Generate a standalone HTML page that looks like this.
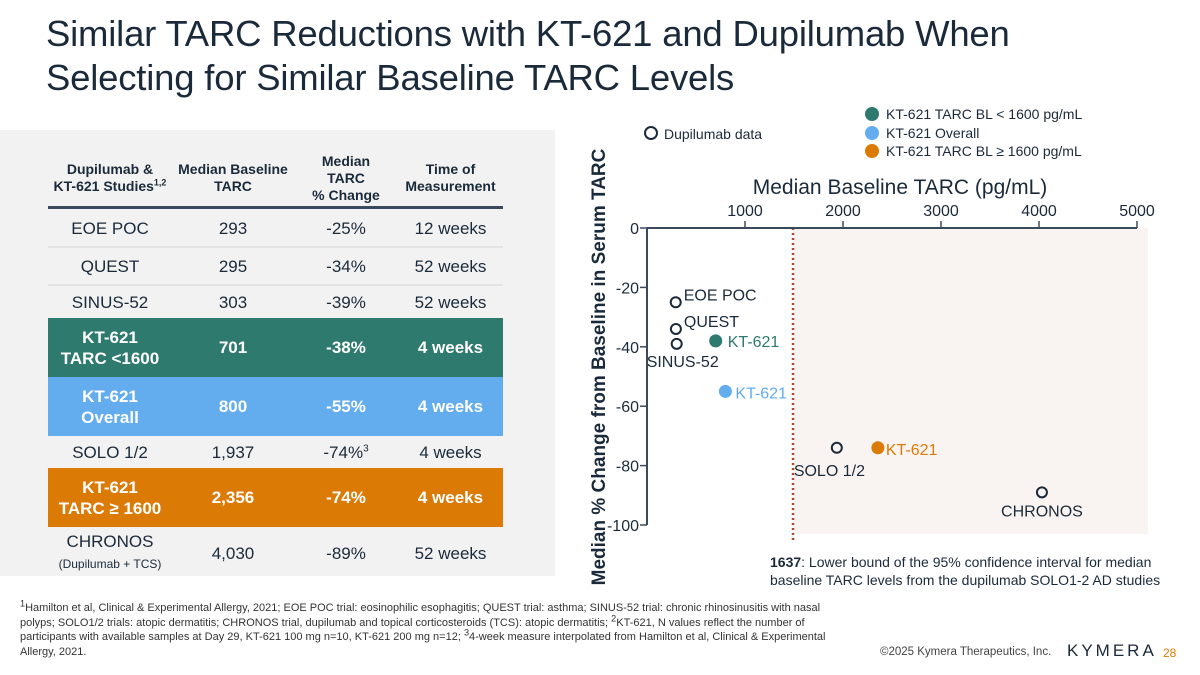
<!DOCTYPE html>
<html><head><meta charset="utf-8"><style>
body{margin:0;width:1200px;height:675px;background:#fff;font-family:"Liberation Sans",sans-serif;color:#1b2a3a;position:relative;overflow:hidden}
.abs{position:absolute}
#title{left:46px;top:12px;font-size:36.5px;line-height:44px;color:#1b2a3a;letter-spacing:-0.2px}
#panel{left:0;top:130px;width:555px;height:446px;background:#f2f2f2}
.row{position:absolute;left:48px;width:455px;display:flex;align-items:center}
.row div{text-align:center;font-size:17px;line-height:21px}
.c1{width:124px}.c2{width:122px}.c3{width:104px}.c4{width:105px}
.hdr div{font-size:14px;font-weight:bold;line-height:17px}
.sep{border-bottom:2px solid #e4e4e4}
.w{color:#fff}.w div{font-weight:bold}
#foot{left:20px;top:601px;width:812px;font-size:11px;line-height:14.5px;color:#333}
sup{line-height:0}
</style></head><body>
<div id="title" class="abs">Similar TARC Reductions with KT-621 and Dupilumab When<br>Selecting for Similar Baseline TARC Levels</div>
<div id="panel" class="abs"></div>
<div class="row hdr" style="top:150px;height:56px;border-bottom:3px solid #3a4a5a">
<div class="c1">Dupilumab &amp;<br>KT-621 Studies<sup style="font-size:9px">1,2</sup></div><div class="c2">Median Baseline<br>TARC</div><div class="c3">Median<br>TARC<br>% Change</div><div class="c4">Time of<br>Measurement</div></div>
<div class="row sep" style="top:210px;height:36px"><div class="c1">EOE POC</div><div class="c2">293</div><div class="c3">-25%</div><div class="c4">12 weeks</div></div>
<div class="row sep" style="top:248px;height:36px"><div class="c1">QUEST</div><div class="c2">295</div><div class="c3">-34%</div><div class="c4">52 weeks</div></div>
<div class="row" style="top:286px;height:32px"><div class="c1">SINUS-52</div><div class="c2">303</div><div class="c3">-39%</div><div class="c4">52 weeks</div></div>
<div class="row w" style="top:318px;height:59px;background:#2e7a6e"><div class="c1">KT-621<br>TARC &lt;1600</div><div class="c2">701</div><div class="c3">-38%</div><div class="c4">4 weeks</div></div>
<div class="row w" style="top:377px;height:59px;background:#63acee"><div class="c1">KT-621<br>Overall</div><div class="c2">800</div><div class="c3">-55%</div><div class="c4">4 weeks</div></div>
<div class="row" style="top:436px;height:32px"><div class="c1">SOLO 1/2</div><div class="c2">1,937</div><div class="c3">-74%<sup style="font-size:10px">3</sup></div><div class="c4">4 weeks</div></div>
<div class="row w" style="top:468px;height:59px;background:#dc7a06"><div class="c1">KT-621<br>TARC ≥ 1600</div><div class="c2">2,356</div><div class="c3">-74%</div><div class="c4">4 weeks</div></div>
<div class="row" style="top:530px;height:46px"><div class="c1">CHRONOS<br><span style="font-size:12px">(Dupilumab + TCS)</span></div><div class="c2">4,030</div><div class="c3">-89%</div><div class="c4">52 weeks</div></div>

<svg class="abs" style="left:0;top:0" width="1200" height="675" font-family="Liberation Sans, sans-serif">
<g id="g"></g>
</svg>
<div id="foot" class="abs"><sup>1</sup>Hamilton et al, Clinical &amp; Experimental Allergy, 2021; EOE POC trial: eosinophilic esophagitis; QUEST trial: asthma; SINUS-52 trial: chronic rhinosinusitis with nasal polyps; SOLO1/2 trials: atopic dermatitis; CHRONOS trial, dupilumab and topical corticosteroids (TCS): atopic dermatitis; <sup>2</sup>KT-621, N values reflect the number of participants with available samples at Day 29, KT-621 100 mg n=10, KT-621 200 mg n=12; <sup>3</sup>4-week measure interpolated from Hamilton et al, Clinical &amp; Experimental Allergy, 2021.</div>
<div class="abs" style="left:880px;top:646px;font-size:11.5px;color:#444">©2025 Kymera Therapeutics, Inc.</div>
<div class="abs" style="left:1067px;top:641px;font-size:17px;letter-spacing:3px;color:#1b2a3a">KYMERA</div>
<div class="abs" style="left:1163px;top:646px;font-size:12px;color:#dc7a06">28</div>
<script>
const names=["EOE POC","QUEST","SINUS-52","KT-621","KT-621","SOLO 1/2","KT-621","CHRONOS"];
const baseline=[293,295,303,701,800,1937,2356,4030];
const change=[-25,-34,-39,-38,-55,-74,-74,-89];
const kind=["d","d","d","g","b","d","o","d"];
const xTicks=[1000,2000,3000,4000,5000];
const yTicks=[0,-20,-40,-60,-80,-100];
const refLine=1490;
const X=v=>647+v*0.098, Y=v=>228-v*2.97;
const col={d:"#1b2a3a",g:"#2e7a6e",b:"#63acee",o:"#dc7a06"};
const ns="http://www.w3.org/2000/svg",g=document.getElementById('g');
function mk(t,a,txt){const e=document.createElementNS(ns,t);for(const k in a)e.setAttribute(k,a[k]);if(txt!=null)e.textContent=txt;g.appendChild(e);return e;}
let e;
e=mk('rect',{x:X(refLine),y:Y(0),width:1148-X(refLine),height:Y(-103)-Y(0),fill:"#f9f4f1"});

e=mk('line',{x1:X(refLine),x2:X(refLine),y1:Y(0),y2:Y(-106),stroke:"#b3452c","stroke-width":2.5,"stroke-dasharray":"2 3"});

e=mk('line',{x1:X(0),x2:X(5000),y1:Y(0),y2:Y(0),stroke:"#3a4a5a","stroke-width":2});

e=mk('line',{x1:X(0),x2:X(0),y1:Y(0),y2:Y(-100),stroke:"#3a4a5a","stroke-width":2});

xTicks.forEach(t=>{mk('line',{x1:X(t),x2:X(t),y1:Y(0)-7,y2:Y(0),stroke:"#3a4a5a","stroke-width":1.5});
e=mk('text',{x:X(t),y:Y(0)-12,"text-anchor":"middle","font-size":16,fill:"#1b2a3a"},t);
});
yTicks.forEach(t=>{mk('line',{x1:X(0)-7,x2:X(0),y1:Y(t),y2:Y(t),stroke:"#3a4a5a","stroke-width":1.5});
e=mk('text',{x:X(0)-8,y:Y(t)+6,"text-anchor":"end","font-size":16,fill:"#1b2a3a"},t);
});
e=mk('text',{x:900,y:194,"text-anchor":"middle","font-size":21,fill:"#1b2a3a"},"Median Baseline TARC (pg/mL)");

e=mk('text',{x:0,y:0,"text-anchor":"middle","font-size":19,"font-weight":"bold",fill:"#1b2a3a",transform:"translate(605,367) rotate(-90)"},"Median % Change from Baseline in Serum TARC");

const lab={0:[8,-2,"start"],1:[8,-2,"start"],2:[-30,23,"start"],3:[12,6,"start"],4:[10,7,"start"],5:[-43,28,"start"],6:[8,7,"start"],7:[0,24,"middle"]};
baseline.forEach((v,i)=>{const k=kind[i],cx=X(v),cy=Y(change[i]);
e=k=="d"?mk('circle',{cx:cx,cy:cy,r:5,fill:"none",stroke:col.d,"stroke-width":2}):mk('circle',{cx:cx,cy:cy,r:6.5,fill:col[k]});

const l=lab[i];e=mk('text',{x:cx+l[0],y:cy+l[1],"text-anchor":l[2],"font-size":16,fill:col[k]},names[i]);
});
e=mk('circle',{cx:651,cy:133,r:6,fill:"none",stroke:col.d,"stroke-width":2});
e=mk('text',{x:664,y:139,"font-size":14,fill:"#1b2a3a"},"Dupilumab data");
[["g","KT-621 TARC BL < 1600 pg/mL",114],["b","KT-621 Overall",133],["o","KT-621 TARC BL ≥ 1600 pg/mL",151]].forEach(a=>{
e=mk('circle',{cx:872,cy:a[2],r:7,fill:col[a[0]]});
e=mk('text',{x:886,y:a[2]+5,"font-size":14,fill:"#1b2a3a"},a[1]);});
e=mk('text',{x:770,y:567,"font-size":14,fill:"#1b2a3a"});e.innerHTML='<tspan font-weight="bold">1637</tspan>: Lower bound of the 95% confidence interval for median';

e=mk('text',{x:770,y:585,"font-size":14,fill:"#1b2a3a"},"baseline TARC levels from the dupilumab SOLO1-2 AD studies");

</script>
</body></html>
